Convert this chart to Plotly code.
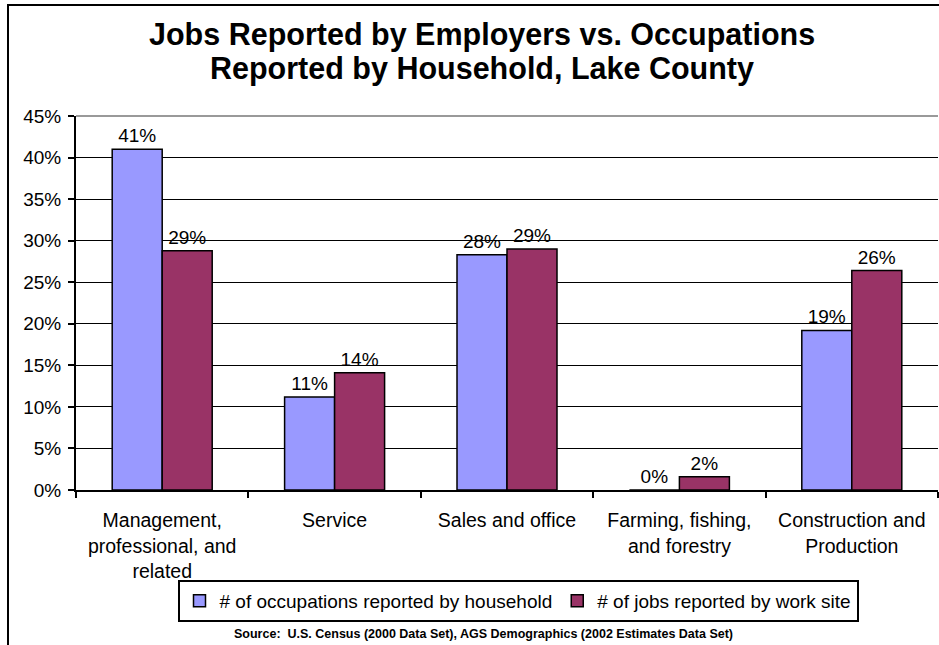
import plotly.graph_objects as go

categories = ["Management,<br>professional, and<br>related", "Service", "Sales and office",
              "Farming, fishing,<br>and forestry", "Construction and<br>Production"]
household = [0.410, 0.112, 0.283, 0.0, 0.192]
worksite = [0.288, 0.141, 0.290, 0.016, 0.264]
series_names = ["# of occupations reported by household", "# of jobs reported by work site"]
y_ticks = [0, 0.05, 0.10, 0.15, 0.20, 0.25, 0.30, 0.35, 0.40, 0.45]
title_lines = ["Jobs Reported by Employers vs. Occupations", "Reported by Household, Lake County"]
source_text = "Source:  U.S. Census (2000 Data Set), AGS Demographics (2002 Estimates Data Set)"

FONT = "Liberation Sans, Arial, sans-serif"
W, H = 939, 645
ML, MR, MT, MB = 76, 1, 116, 155
PW, PH = W - ML - MR, H - MT - MB

def px_x(x):
    return (x - ML) / PW

def px_y(y):
    return (H - MB - y) / PH

fig = go.Figure()
for vals, name, color in [(household, series_names[0], "#9999FF"), (worksite, series_names[1], "#993366")]:
    fig.add_trace(go.Bar(
        x=categories, y=vals, name=name,
        marker=dict(color=color, line=dict(color="black", width=1.5)),
        texttemplate="%{y:.0%}", textposition="outside", cliponaxis=False,
        textfont=dict(family=FONT, size=19, color="black"),
    ))

annotations = [
    dict(text=f"<b>{title_lines[0]}</b>", xref="paper", yref="paper",
         x=px_x(482), y=px_y(34.5), xanchor="center", yanchor="middle",
         showarrow=False, font=dict(family=FONT, size=30.5, color="black")),
    dict(text=f"<b>{title_lines[1]}</b>", xref="paper", yref="paper",
         x=px_x(482), y=px_y(69), xanchor="center", yanchor="middle",
         showarrow=False, font=dict(family=FONT, size=30.5, color="black")),
    dict(text=f"<b>{source_text}</b>",
         xref="paper", yref="paper", x=px_x(483), y=px_y(634), xanchor="center", yanchor="middle",
         showarrow=False, font=dict(family=FONT, size=12.5, color="black")),
]

fig.update_layout(
    width=W, height=H,
    margin=dict(l=ML, r=MR, t=MT, b=MB),
    paper_bgcolor="white", plot_bgcolor="white",
    barmode="group", bargap=0.42, bargroupgap=0,
    font=dict(family=FONT, size=19, color="black"),
    legend=dict(
        orientation="h", xref="paper", yref="paper",
        x=px_x(518), xanchor="center", y=px_y(601), yanchor="middle",
        bordercolor="black", borderwidth=2, bgcolor="white",
        font=dict(family=FONT, size=19, color="black"),
        itemwidth=30, tracegroupgap=0,
    ),
    xaxis=dict(
        showline=True, linecolor="black", linewidth=2,
        ticks="outside", tickson="boundaries", ticklen=6, tickcolor="black", tickwidth=2,
        ticklabelstandoff=12,
        showgrid=False, tickfont=dict(family=FONT, size=19.5, color="black"),
    ),
    yaxis=dict(
        range=[0, 0.45], tickvals=y_ticks, tickformat=".0%",
        showline=True, linecolor="black", linewidth=2,
        ticks="outside", ticklen=6, tickcolor="black", tickwidth=2,
        ticklabelstandoff=3,
        showgrid=True, gridcolor="black", gridwidth=1, zeroline=False,
        tickfont=dict(family=FONT, size=19, color="black"),
    ),
    shapes=[
        dict(type="line", xref="paper", yref="paper", x0=0, x1=1, y0=1, y1=1,
             line=dict(color="#999999", width=2), layer="above"),
        dict(type="path", xref="paper", yref="paper",
             path=f"M {px_x(8)},{px_y(660)} L {px_x(8)},{px_y(5)} L {px_x(945)},{px_y(5)}",
             line=dict(color="black", width=2), layer="above"),
    ],
    annotations=annotations,
)

fig.write_html("out.html", config={"displayModeBar": False},
               post_script="document.body.style.margin='0';")
